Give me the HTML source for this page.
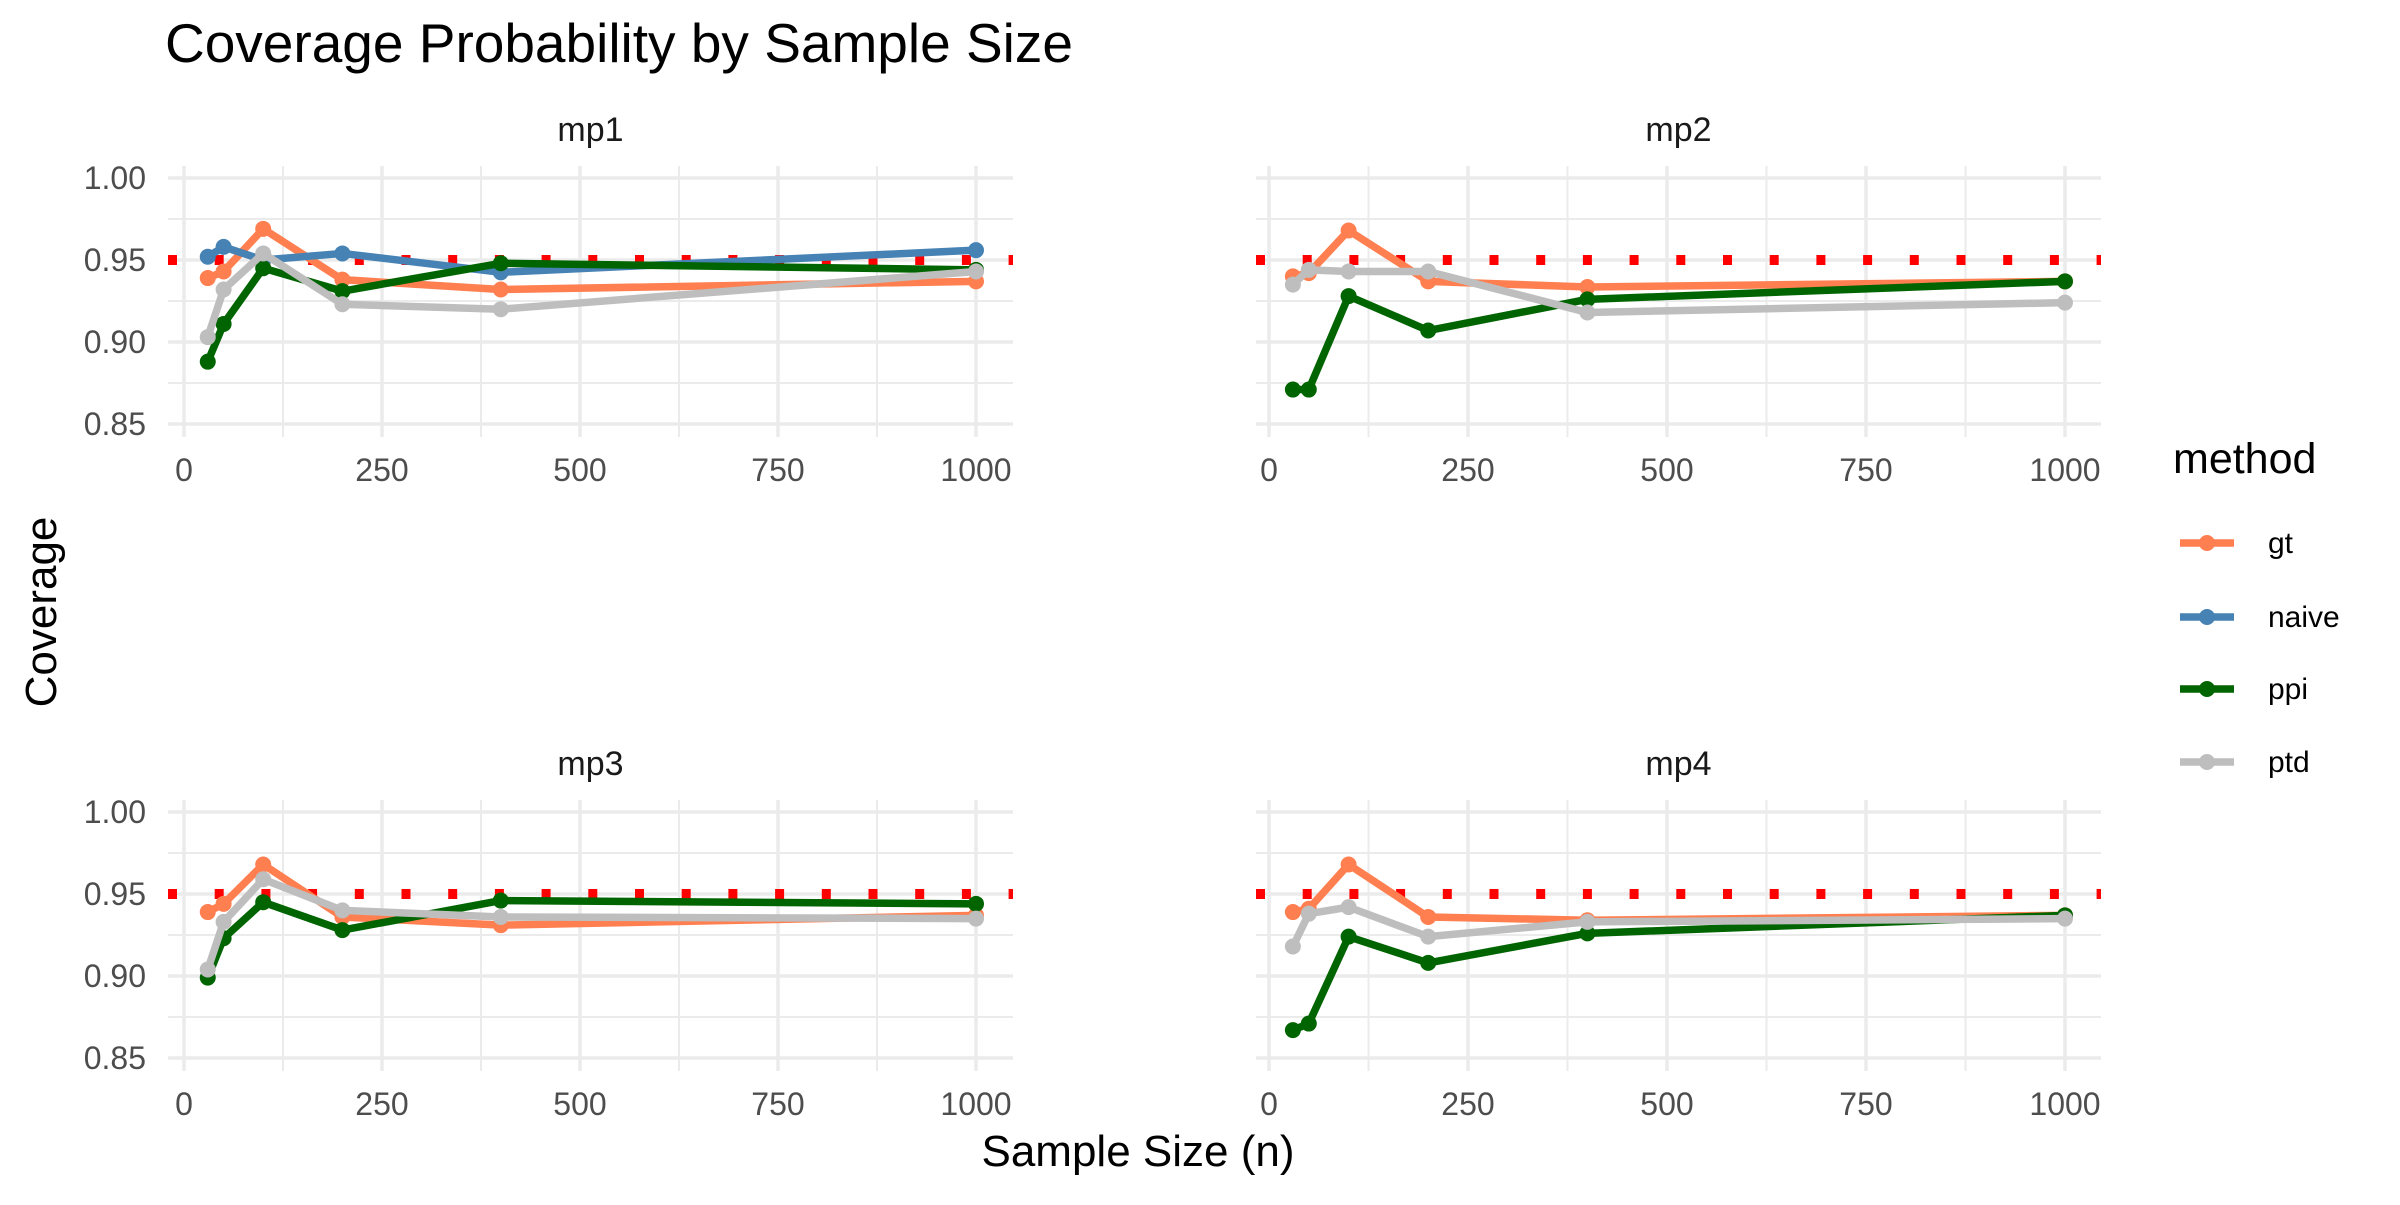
<!DOCTYPE html>
<html><head><meta charset="utf-8"><style>
body{margin:0;background:#fff}
svg text{font-family:"Liberation Sans",Arial,sans-serif}
</style></head><body>
<svg id="chart" width="2400" height="1200" xmlns="http://www.w3.org/2000/svg">
<rect width="2400" height="1200" fill="#fff"/>
<text x="165" y="62" font-size="55" fill="#000">Coverage Probability by Sample Size</text>
<text x="1138" y="1166" font-size="44" fill="#000" text-anchor="middle">Sample Size (n)</text>
<text x="0" y="0" font-size="44" fill="#000" text-anchor="middle" transform="translate(56,612) rotate(-90)">Coverage</text>
<g id="panels"></g>
<g id="legend">
<text x="2173" y="473" font-size="43" fill="#000">method</text>
</g>
</svg>
<script>
const xs = [30, 50, 100, 200, 400, 1000];
const panelNames = ["mp1", "mp2", "mp3", "mp4"];
const methods = ["gt", "naive", "ppi", "ptd"];
const colors = {gt:"#FF7F50", naive:"#4682B4", ppi:"#006400", ptd:"#BEBEBE"};
const gtMp1 = [0.939, 0.943, 0.969, 0.938, 0.932, 0.937];
const naiveMp1 = [0.952, 0.958, 0.950, 0.954, 0.9425, 0.956];
const ppiMp1 = [0.888, 0.911, 0.945, 0.931, 0.948, 0.944];
const ptdMp1 = [0.903, 0.932, 0.954, 0.923, 0.920, 0.943];
const gtMp2 = [0.940, 0.942, 0.968, 0.937, 0.9335, 0.937];
const ppiMp2 = [0.871, 0.871, 0.928, 0.907, 0.926, 0.937];
const ptdMp2 = [0.935, 0.944, 0.943, 0.943, 0.918, 0.924];
const gtMp3 = [0.939, 0.944, 0.968, 0.936, 0.931, 0.937];
const ppiMp3 = [0.899, 0.923, 0.945, 0.928, 0.946, 0.944];
const ptdMp3 = [0.904, 0.933, 0.959, 0.940, 0.936, 0.935];
const gtMp4 = [0.939, 0.941, 0.968, 0.936, 0.934, 0.937];
const ppiMp4 = [0.867, 0.871, 0.924, 0.908, 0.926, 0.937];
const ptdMp4 = [0.918, 0.938, 0.942, 0.924, 0.933, 0.935];
const target = 0.95;
const yTicks = [0.85, 0.90, 0.95, 1.00];
const yTickLabels = ["0.85", "0.90", "0.95", "1.00"];
const yMinor = [0.875, 0.925, 0.975];
const xTicks = [0, 250, 500, 750, 1000];
const xTickLabels = ["0", "250", "500", "750", "1000"];
const xMinor = [125, 375, 625, 875];

const seriesByPanel = {
  mp1:{gt:gtMp1, naive:naiveMp1, ppi:ppiMp1, ptd:ptdMp1},
  mp2:{gt:gtMp2, ppi:ppiMp2, ptd:ptdMp2},
  mp3:{gt:gtMp3, ppi:ppiMp3, ptd:ptdMp3},
  mp4:{gt:gtMp4, ppi:ppiMp4, ptd:ptdMp4}
};
const NS = "http://www.w3.org/2000/svg";
function mk(tag, attrs, parent){const e=document.createElementNS(NS,tag);for(const k in attrs)e.setAttribute(k,attrs[k]);parent.appendChild(e);return e;}
const layout = [
  {left:168, right:1013, top:166, bottom:437, x0:184, x1000:976, y100:178, y085:424},
  {left:1256, right:2101, top:166, bottom:437, x0:1269, x1000:2065, y100:178, y085:424},
  {left:168, right:1013, top:800, bottom:1071, x0:184, x1000:976, y100:812, y085:1058},
  {left:1256, right:2101, top:800, bottom:1071, x0:1269, x1000:2065, y100:812, y085:1058}
];
const root = document.getElementById("panels");
panelNames.forEach((name, i) => {
  const L = layout[i];
  const sx = v => L.x0 + (v/1000)*(L.x1000 - L.x0);
  const sy = v => L.y085 + (v-0.85)/(0.15)*(L.y100 - L.y085);
  const g = mk("g", {}, root);
  
  
  const strip = mk("text", {x:(L.left+L.right)/2, y:L.top-25, "font-size":"34", fill:"#1a1a1a", "text-anchor":"middle"}, g);
  strip.textContent = name;
  
  
  yMinor.forEach(v => { mk("line", {x1:L.left, x2:L.right, y1:sy(v), y2:sy(v), stroke:"#ebebeb", "stroke-width":"2"}, g); });
  xMinor.forEach(v => { mk("line", {x1:sx(v), x2:sx(v), y1:L.top, y2:L.bottom, stroke:"#ebebeb", "stroke-width":"2"}, g); });
  yTicks.forEach((v, k) => {
    mk("line", {x1:L.left, x2:L.right, y1:sy(v), y2:sy(v), stroke:"#ebebeb", "stroke-width":"3.5"}, g);
    if (i % 2 === 0) {
      const t = mk("text", {x:146, y:sy(v)+11, "font-size":"32", fill:"#4d4d4d", "text-anchor":"end"}, g);
      t.textContent = yTickLabels[k];
      
      
    }
  });
  xTicks.forEach((v, k) => {
    mk("line", {x1:sx(v), x2:sx(v), y1:L.top, y2:L.bottom, stroke:"#ebebeb", "stroke-width":"3.5"}, g);
    const t = mk("text", {x:sx(v), y:L.bottom+44, "font-size":"32", fill:"#4d4d4d", "text-anchor":"middle"}, g);
    t.textContent = xTickLabels[k];
    
    
  });
  const ref = mk("line", {x1:L.left, x2:L.right, y1:sy(target), y2:sy(target), stroke:"#FF0000", "stroke-width":"10", "stroke-dasharray":"9 37.7"}, g);
  
  
  const S = seriesByPanel[name];
  methods.forEach(m => {
    if (!S[m]) return;
    const vals = S[m];
    const pts = xs.map((x, j) => sx(x) + "," + sy(vals[j])).join(" ");
    const pl = mk("polyline", {points:pts, fill:"none", stroke:colors[m], "stroke-width":"7.5", "stroke-linejoin":"round"}, g);
    
    
    xs.forEach((x, j) => {
      const c = mk("circle", {cx:sx(x), cy:sy(vals[j]), r:"8", fill:colors[m]}, g);
      
      
    });
  });
});
const leg = document.getElementById("legend");
const legY = [543, 617, 689, 762];
methods.forEach((m, k) => {
  const y = legY[k];
  const gg = mk("g", {}, leg);
  
  
  mk("line", {x1:2180, x2:2234, y1:y, y2:y, stroke:colors[m], "stroke-width":"7.5"}, gg);
  mk("circle", {cx:2207, cy:y, r:"8", fill:colors[m]}, gg);
  const t = mk("text", {x:2268, y:y+10, "font-size":"30", fill:"#000"}, gg);
  t.textContent = m;
});
</script>
</body></html>
